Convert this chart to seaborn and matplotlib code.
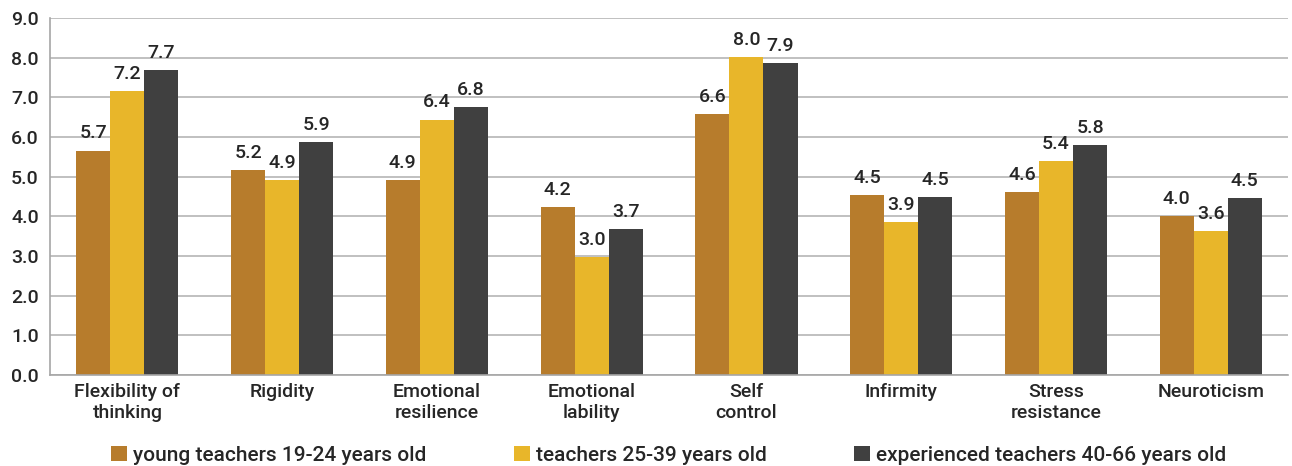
import pandas as pd
import matplotlib
matplotlib.use("Agg")
import matplotlib.pyplot as plt
import seaborn as sns
import numpy as np

# dados
categorias = ["Flexibility of\nthinking", "Rigidity", "Emotional\nresilience", "Emotional\nlability",
              "Self\ncontrol", "Infirmity", "Stress\nresistance", "Neuroticism"]
grupos = ["young teachers 19-24 years old", "teachers 25-39 years old", "experienced teachers 40-66 years old"]
jovens = [5.66, 5.16, 4.92, 4.23, 6.58, 4.54, 4.61, 4.01]
medios = [7.16, 4.92, 6.44, 2.97, 8.02, 3.86, 5.39, 3.63]
experientes = [7.69, 5.87, 6.76, 3.68, 7.87, 4.49, 5.80, 4.46]
cores = ["#B77C2C", "#E8B62A", "#404040"]

df = pd.DataFrame({
    "categoria": categorias * 3,
    "grupo": [grupos[0]] * 8 + [grupos[1]] * 8 + [grupos[2]] * 8,
    "valor": jovens + medios + experientes,
})

sns.set_style("white")
plt.rcParams["font.family"] = ["Roboto", "DejaVu Sans"]
plt.rcParams["font.weight"] = "medium"

fig = plt.figure(figsize=(12.92, 4.66), dpi=100)
ax = fig.add_axes([0.0387, 0.195, 0.9583, 0.766])

sns.barplot(data=df, x="categoria", y="valor", hue="grupo", palette=cores,
            width=0.66, gap=0, saturation=1, ax=ax, errorbar=None, linewidth=0)

for c in ax.containers:
    ax.bar_label(c, fmt="%.1f", padding=6, fontsize=14, fontweight="medium")

ax.set_ylim(0, 9)
ax.set_xlim(-0.5, 7.5)
ax.set_yticks(np.arange(0, 9.1, 1))
ax.set_yticklabels([f"{v:.1f}" for v in np.arange(0, 9.1, 1)], fontsize=14)
ax.tick_params(axis="x", which="major", length=0, labelsize=14, pad=6)
ax.set_xticks(np.arange(-0.5, 8, 1), minor=True)
ax.tick_params(axis="x", which="minor", length=6, color="#A6A6A6", width=1.2)
ax.tick_params(axis="y", length=0, pad=8)
ax.grid(axis="y", color="#B5B5B5", linewidth=1.2)
ax.set_axisbelow(True)
ax.set_xlabel("")
ax.set_ylabel("")
for s in ["top", "right"]:
    ax.spines[s].set_visible(False)
for s in ["left", "bottom"]:
    ax.spines[s].set_color("#A6A6A6")
    ax.spines[s].set_linewidth(1.2)

ax.legend(loc="center", bbox_to_anchor=(0.5, -0.225), ncol=3, frameon=False,
          prop={"size": 15, "weight": "medium"}, handlelength=0.75, handleheight=0.75,
          handletextpad=0.3, columnspacing=4.2)

fig.savefig("out.png", dpi=100)
